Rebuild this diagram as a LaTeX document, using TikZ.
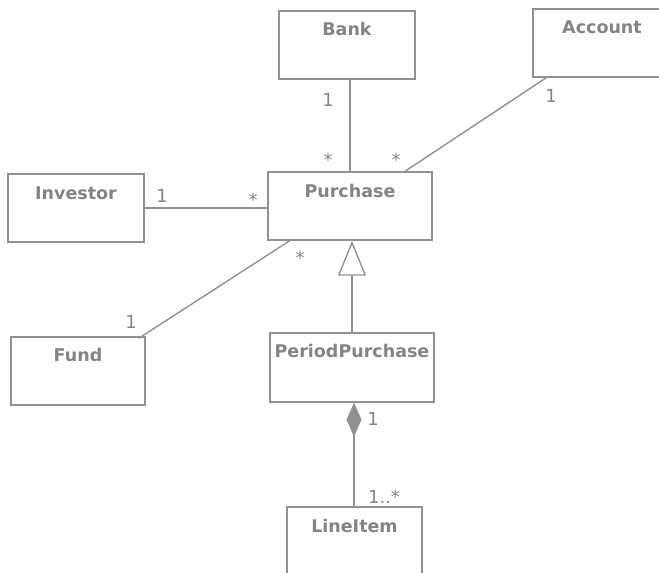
\documentclass[tikz,border=0pt]{standalone}
\usepackage{fontspec}
\setmainfont{DejaVu Sans}
\newfontfamily\titlefont{DejaVu Sans}
\usetikzlibrary{arrows.meta}
\definecolor{umlgray}{RGB}{132,132,132}
\definecolor{umlline}{RGB}{145,145,145}
\tikzset{
  cls/.style={draw=umlline, line width=1.4pt, rectangle, inner sep=0pt},
  ttl/.style={anchor=base, text=umlgray, inner sep=0pt,
    font=\titlefont\bfseries\fontsize{17.5}{20}\selectfont},
  mult/.style={text=umlgray, inner sep=0pt,
    font=\fontsize{18}{20}\selectfont},
  assoc/.style={draw=umlline, line width=1.4pt},
  gen/.style={assoc, -{Triangle[open, length=35pt, width=28pt, fill=white]}},
  comp/.style={assoc, -{Diamond[length=34pt, width=15pt, fill=umlline]}},
}
\begin{document}
\begin{tikzpicture}[x=1pt, y=-1pt]
  \useasboundingbox (0,0) rectangle (659,573);

  % classes
  \node[cls, minimum width=136pt, minimum height=68pt] (bank) at (347,45) {};
  \node[ttl] (bankt) at ([yshift=-25pt]bank.north) {Bank};

  \node[cls, minimum width=138pt, minimum height=68pt] (account) at (602,43) {};
  \node[ttl] (accountt) at ([yshift=-25pt]account.north) {Account};

  \node[cls, minimum width=164pt, minimum height=68pt] (purchase) at (350,206) {};
  \node[ttl] (purchaset) at ([yshift=-26pt]purchase.north) {Purchase};

  \node[cls, minimum width=136pt, minimum height=68pt] (investor) at (76,208) {};
  \node[ttl] (investort) at ([yshift=-26pt]investor.north) {Investor};

  \node[cls, minimum width=134pt, minimum height=68pt] (fund) at (78,371) {};
  \node[ttl] (fundt) at ([yshift=-25pt]fund.north) {Fund};

  \node[cls, minimum width=164pt, minimum height=69pt] (period) at (352,367.5) {};
  \node[ttl] (periodt) at ([yshift=-25pt]period.north) {PeriodPurchase};

  \node[cls, minimum width=135pt, minimum height=68pt] (lineitem) at (354.5,541) {};
  \node[ttl] (lineitemt) at ([yshift=-26pt]lineitem.north) {LineItem};

  % associations
  \draw[assoc] ([xshift=3pt]bank.south) -- (purchase.north);
  \draw[assoc] ([xshift=14pt]account.south west) -- ([xshift=55pt]purchase.north);
  \draw[assoc] (investor.east) -- (investor.east -| purchase.west);
  \draw[assoc] ([xshift=-7pt, yshift=-2pt]fund.north east) -- ([xshift=24pt, yshift=1pt]purchase.south west);

  % generalization and composition
  \draw[gen] (period.north) -- (period.north |- purchase.south);
  \draw[comp] ([xshift=-0.5pt]lineitem.north) -- ([xshift=-0.5pt]lineitem.north |- period.south);

  % multiplicities
  \node[mult] (m1) at (328,100) {1};
  \node[mult] (m2) at (328,160) {*};
  \node[mult] (m3) at (396,160) {*};
  \node[mult] (m4) at (551,96) {1};
  \node[mult] (m5) at (162,196) {1};
  \node[mult] (m6) at (253,200) {*};
  \node[mult] (m7) at (131,322) {1};
  \node[mult] (m8) at (300,258) {*};
  \node[mult] (m9) at (373,419) {1};
  \node[mult] (m10) at (384,497) {1..*};
\end{tikzpicture}
\end{document}
